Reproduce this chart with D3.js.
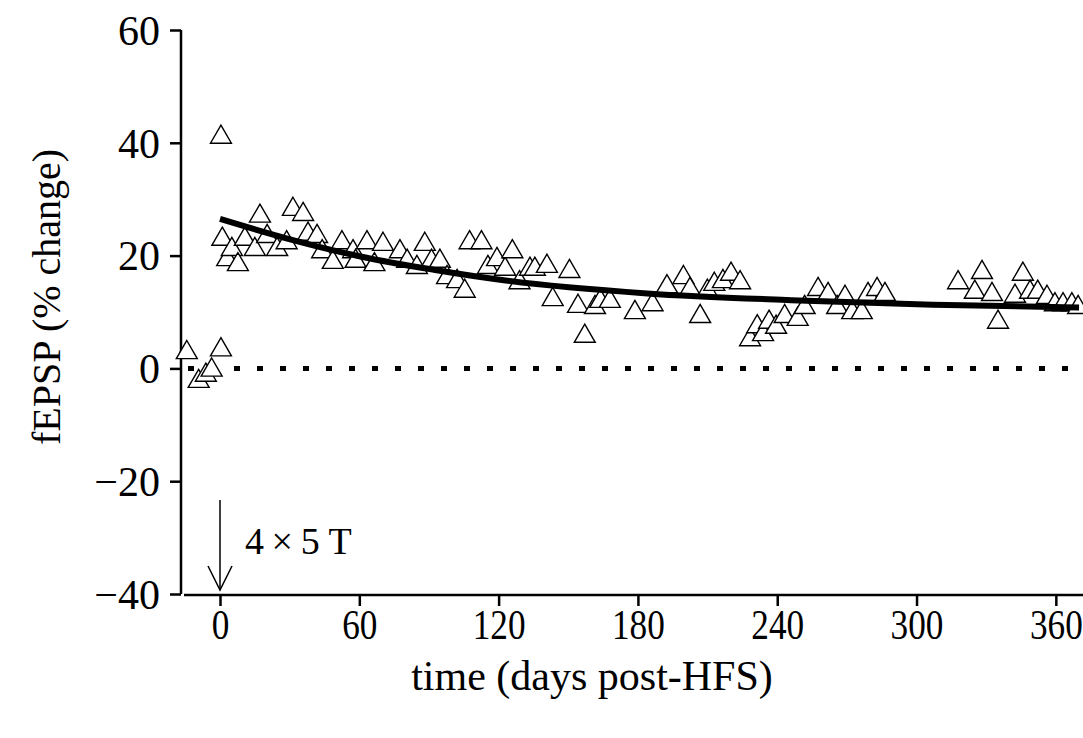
<!DOCTYPE html>
<html>
<head>
<meta charset="utf-8">
<script src="https://cdn.jsdelivr.net/npm/d3@7"></script>
<style>
  body { margin: 0; background: #fff; }
  svg text { font-family: "Liberation Serif", "Times New Roman", serif; fill: #000; }
</style>
</head>
<body>
<div id="chart"></div>
<script>
// data: days after HFS and fEPSP (% change)
const days = [
  -14.3, -9.2, -6.1, -3.6, 0.4, 0.4,
  1, 3.1, 5.1, 7.7, 10.7, 15, 17.2, 20.3, 24.6, 28.7, 31.4, 35.8, 37.9, 41.8, 44, 48.6, 52.5, 57.3,
  58.4, 63.3, 66.5, 70.2, 77.5, 80.6, 84.8, 88.2, 91.1, 94.7, 97.8, 102.1, 105.4, 107.5, 112.6,
  115.4, 119.3, 122.8, 125.9, 129, 133.5, 135.6, 140.8, 143.3, 150.5, 154.2, 157.1, 161.5,
  163.8, 167.9, 178.7, 186.3, 192.5, 199.6, 202.4, 206.8, 209.9, 212.9, 216.6, 220.1, 224,
  228.3, 231.4, 233.9, 236.5, 239.5, 243.2, 248.8, 251.8, 257.6, 261.9, 265.8, 269.2, 272.3, 276.4,
  279.1, 283, 286.4, 317.9, 325.1, 328.2, 332.5, 335.1, 342.4, 345.8, 348.9, 352.2,
  356.2, 359.6, 363.1, 366.9, 369.6
];
const fepsp = [
  2.8, -2.3, -1.2, -0.3, 41, 3.3,
  22.9, 19.3, 21.1, 18.4, 22.9, 21.1, 27, 23.4, 21.1, 22.3, 28.2, 27.3, 23.8, 23.4, 20.7, 18.8, 22.3, 20.7,
  19, 22.3, 18.4, 22, 20.7, 19, 17.9, 22, 19, 19, 16.1, 15.4, 13.7, 22.3, 22.3,
  17.9, 19.3, 17.6, 20.7, 15.2, 17.6, 17.6, 18.1, 12.2, 17.2, 11, 5.7, 10.8,
  11.9, 11.9, 9.9, 11.3, 14.5, 16.1, 14, 9.2, 13.7, 14.9, 15.4, 16.7, 15.2,
  5.1, 7.4, 6, 8.2, 7.3, 9.2, 8.7, 10.8, 14, 13.1, 10.8, 12.6, 9.9, 9.9,
  13.1, 14, 13.1, 15.2, 13.5, 17, 13.1, 8.2, 12.8, 16.7, 13.5, 13.5,
  12.6, 11.3, 11.3, 11.3, 10.8
];
// decay fit, read at a few days
const fitDays = [0, 31, 61, 92, 123, 184, 246, 307, 370];
const fitVals = [26.5, 22.8, 19.8, 17.5, 15.6, 13.3, 12.1, 11.3, 10.8];

const xTicks = [0, 60, 120, 180, 240, 300, 360];
const yTicks = [-40, -20, 0, 20, 40, 60];

const W = 1083, H = 738;
const svg = d3.select("#chart").append("svg")
  .attr("width", W).attr("height", H);

const x = d3.scaleLinear().domain([-16.8, 371.7]).range([181, 1083]);
const y = d3.scaleLinear().domain([-40, 60]).range([594, 30]);

// y axis
const yAxis = svg.append("g")
  .attr("transform", "translate(181,0)")
  .call(d3.axisLeft(y).tickValues(yTicks).tickSize(11).tickPadding(10)
    .tickFormat(d => d < 0 ? "\u2212" + Math.abs(d) : d));
yAxis.select(".domain").attr("stroke-width", 2.5).attr("d", "M0,30V594");
yAxis.selectAll(".tick line").attr("stroke-width", 2.5);
yAxis.selectAll("text").attr("font-size", 42).attr("dy", "0.34em");

// x axis (digits a bit narrow, as in the original)
const xAxis = svg.append("g")
  .attr("transform", "translate(0,595)")
  .call(d3.axisBottom(x).tickValues(xTicks).tickSize(11).tickPadding(3));
xAxis.select(".domain").attr("stroke-width", 2.5).attr("d", "M184,0H1083");
xAxis.selectAll(".tick line").attr("stroke-width", 2.5);
xAxis.selectAll("text").attr("font-size", 42).attr("dy", "0.72em")
  .attr("transform", "scale(0.84,1)");

// zero line (dotted)
svg.append("line")
  .attr("x1", 188).attr("x2", 1083)
  .attr("y1", y(0)).attr("y2", y(0))
  .attr("stroke", "#000").attr("stroke-width", 5)
  .attr("stroke-dasharray", "6,17");

// triangles
const pts = days.map((d, i) => ({ d: d, v: fepsp[i] }));
svg.append("g").selectAll("path")
  .data(pts)
  .join("path")
  .attr("transform", p => `translate(${x(p.d)},${y(p.v)})`)
  .attr("d", d3.symbol(d3.symbolTriangle, 190))
  .attr("fill", "#fff")
  .attr("stroke", "#000")
  .attr("stroke-width", 1.4);

// fit curve
const fit = fitDays.map((d, i) => [d, fitVals[i]]);
svg.append("path")
  .datum(fit)
  .attr("d", d3.line().x(p => x(p[0])).y(p => y(p[1])).curve(d3.curveMonotoneX))
  .attr("fill", "none")
  .attr("stroke", "#000")
  .attr("stroke-width", 6);

// HFS arrow
svg.append("line")
  .attr("x1", x(0)).attr("x2", x(0))
  .attr("y1", 500).attr("y2", 590)
  .attr("stroke", "#000").attr("stroke-width", 1.5);
svg.append("path")
  .attr("d", `M${x(0) - 12},${566}L${x(0)},${590}L${x(0) + 12},${566}`)
  .attr("fill", "none").attr("stroke", "#000").attr("stroke-width", 1.5);
svg.append("text")
  .attr("x", 245).attr("y", 554)
  .attr("font-size", 38)
  .text("4\u2009\u00d7\u20095 T");

// axis titles
svg.append("text")
  .attr("x", 592).attr("y", 690)
  .attr("text-anchor", "middle")
  .attr("font-size", 42)
  .text("time (days post-HFS)");
svg.append("text")
  .attr("transform", "translate(60,297) rotate(-90)")
  .attr("text-anchor", "middle")
  .attr("font-size", 40)
  .text("fEPSP (% change)");
</script>
</body>
</html>
